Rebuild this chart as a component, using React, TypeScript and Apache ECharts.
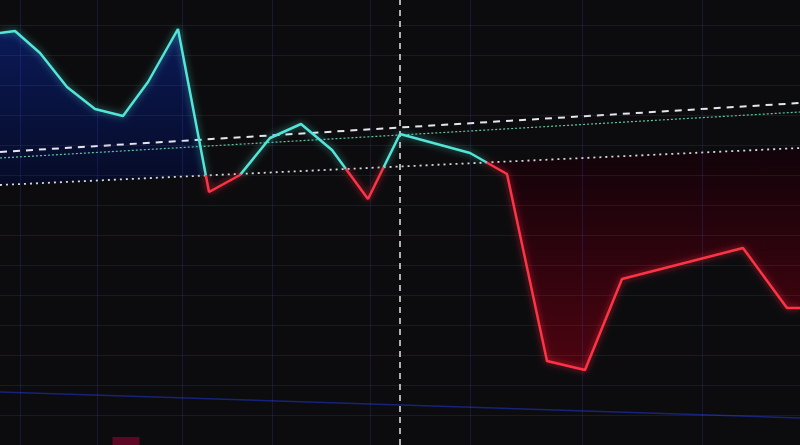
import { useEffect, useRef } from "react";
import * as echarts from "echarts";

// price path, x = time position, v = price level
const priceX = [0, 15, 40, 67, 95, 123, 148, 178, 209, 240, 270, 301, 332, 368, 400, 470, 507, 547, 585, 622, 743, 787, 800];
const priceV = [412, 414, 392, 358, 336, 329, 363, 416, 253, 270, 307, 321, 295, 246, 311, 292, 271, 84, 75, 166, 197, 137, 137];

// reference levels (start / end of the visible range)
const baseLevel = [260, 297];
const resistLevel = [293, 342];
const avgLevel = [287, 333];
const floorLevel = [53, 27];

const gridCols = [20, 97, 182, 272, 370, 470, 582, 702];
const gridRows = [30, 60, 90, 120, 150, 180, 210, 240, 270, 300, 330, 360, 390, 420];
const cursorX = 400;

const volumeX = [126];
const volumeV = [8];

const X_MIN = 0;
const X_MAX = 800;

type Pt = [number, number];
type Run = { up: boolean; pts: Pt[] };

const baseAt = (x: number) => baseLevel[0] + ((baseLevel[1] - baseLevel[0]) * (x - X_MIN)) / (X_MAX - X_MIN);

// split the path where it crosses the base level: above = cyan, below = red
function splitRuns(): Run[] {
  const runs: Run[] = [];
  for (let i = 0; i < priceX.length; i++) {
    const x = priceX[i];
    const v = priceV[i];
    const up = v >= baseAt(x);
    if (i === 0) {
      runs.push({ up, pts: [[x, v]] });
      continue;
    }
    const cur = runs[runs.length - 1];
    if (up === cur.up) {
      cur.pts.push([x, v]);
      continue;
    }
    const px = priceX[i - 1];
    const pv = priceV[i - 1];
    const d0 = pv - baseAt(px);
    const d1 = v - baseAt(x);
    const t = d0 / (d0 - d1);
    const cross: Pt = [px + (x - px) * t, pv + (v - pv) * t];
    cur.pts.push(cross);
    runs.push({ up, pts: [cross, [x, v]] });
  }
  return runs;
}

export default function App() {
  const hostRef = useRef<HTMLDivElement>(null);

  useEffect(() => {
    const el = hostRef.current;
    if (!el) return;
    document.body.style.margin = "0";
    document.body.style.background = "#0c0c0e";

    const chart = echarts.init(el, undefined, { renderer: "svg" });
    const runs = splitRuns();
    const blueRun = runs[0];
    const redRun = runs[runs.length - 1];

    const fillSeries = (run: Run, stops: { offset: number; color: string }[]) => ({
      type: "custom",
      z: 1,
      silent: true,
      data: [[0, 0]],
      renderItem: (_p: unknown, api: any) => {
        const first = run.pts[0][0];
        const last = run.pts[run.pts.length - 1][0];
        const poly = [...run.pts, [last, baseAt(last)], [first, baseAt(first)]].map((p) => api.coord(p));
        return {
          type: "polygon",
          shape: { points: poly },
          style: { fill: new echarts.graphic.LinearGradient(0, 0, 0, 1, stops) },
        };
      },
    });

    const levelLine = (lv: number[], color: string, width: number, dash: number[] | string, z: number) => ({
      type: "line",
      z,
      silent: true,
      showSymbol: false,
      data: [
        [X_MIN, lv[0]],
        [X_MAX, lv[1]],
      ],
      lineStyle: { color, width, type: dash },
    });

    const priceLines = runs.map((r) => ({
      type: "line",
      z: 6,
      silent: true,
      showSymbol: false,
      data: r.pts,
      lineStyle: {
        color: r.up ? "#52e6d8" : "#ff3346",
        width: 2.5,
        shadowBlur: 7,
        shadowColor: r.up ? "rgba(82,230,216,0.6)" : "rgba(255,40,60,0.75)",
      },
    }));

    chart.setOption({
      animation: false,
      backgroundColor: "#0c0c0e",
      grid: { left: 0, right: 0, top: 0, bottom: 0 },
      xAxis: { type: "value", min: X_MIN, max: X_MAX, show: false, splitLine: { show: false } },
      yAxis: { type: "value", min: 0, max: 445, show: false, splitLine: { show: false } },
      series: [
        fillSeries(blueRun, [
          { offset: 0, color: "#0b1a58" },
          { offset: 1, color: "#060b26" },
        ]),
        fillSeries(redRun, [
          { offset: 0, color: "#12030a" },
          { offset: 1, color: "#4c0410" },
        ]),
        {
          type: "line",
          z: 2,
          silent: true,
          showSymbol: false,
          data: [
            [X_MIN, baseLevel[0]],
            [X_MAX, baseLevel[1]],
          ],
          lineStyle: { opacity: 0 },
          markLine: {
            silent: true,
            symbol: ["none", "none"],
            label: { show: false },
            lineStyle: { color: "rgba(80,90,255,0.17)", type: "solid", width: 1 },
            data: [...gridCols.map((x) => ({ xAxis: x })), ...gridRows.map((v) => ({ yAxis: v }))],
          },
        },
        levelLine(floorLevel, "#17237a", 1.5, "solid", 3),
        {
          type: "bar",
          z: 3,
          silent: true,
          barWidth: 27,
          data: volumeX.map((x, i) => [x, volumeV[i]]),
          itemStyle: { color: "#5c0824" },
        },
        levelLine(avgLevel, "#5cc7a0", 1.2, [2, 2], 4),
        levelLine(resistLevel, "#e4e6ee", 2, [7, 6], 4),
        levelLine(baseLevel, "#d8d8dc", 1.8, [2, 4], 4),
        {
          type: "line",
          z: 5,
          silent: true,
          showSymbol: false,
          data: [],
          markLine: {
            silent: true,
            symbol: ["none", "none"],
            label: { show: false },
            lineStyle: { color: "#e6e6ea", type: [6, 5], width: 1.5 },
            data: [{ xAxis: cursorX }],
          },
        },
        ...priceLines,
      ],
    });

    return () => chart.dispose();
  }, []);

  return (
    <div
      ref={hostRef}
      style={{ position: "fixed", left: 0, top: 0, width: 800, height: 445, background: "#0c0c0e" }}
    />
  );
}
